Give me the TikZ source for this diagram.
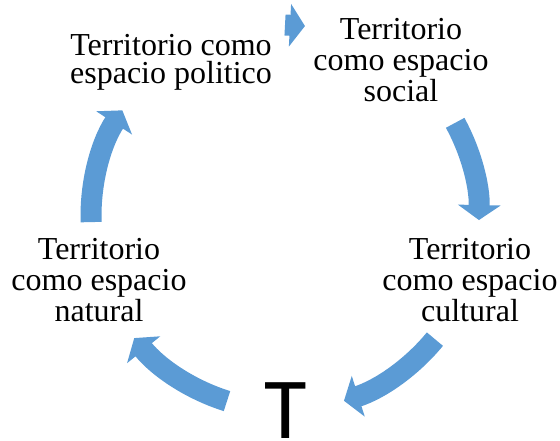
\documentclass[tikz,border=0pt]{standalone}
\usepackage{fontspec}
\setmainfont{Liberation Serif}
\newfontfamily\tfont{Carlito}
\usepackage{tikz}
\usetikzlibrary{arrows.meta, calc}
\definecolor{cycblue}{RGB}{91,155,213}

\begin{document}
\begin{tikzpicture}[
    x=1pt, y=1pt,
    txt/.style={align=center, inner sep=0pt, font=\fontsize{32}{31}\selectfont},
    cyc/.style={draw=cycblue, line width=21pt, -{Triangle[length=15pt, width=42pt]}},
]
\useasboundingbox (0,0) rectangle (560,440);

% Nodes
\node[txt, font=\fontsize{32}{28}\selectfont] (politico) at (171,378) {Territorio como\\espacio politico};
\node[txt] (social) at (401,380) {Territorio\\como espacio\\social};
\node[txt] (cultural) at (470,160) {Territorio\\como espacio\\cultural};
\node[txt] (natural) at (99,160) {Territorio\\como espacio\\natural};
\node[font=\tfont\fontsize{87}{87}\selectfont, inner sep=0pt, anchor=base] (t) at (286,2) {T};

% Cycle
\coordinate (c) at (285,224);
\coordinate (a1) at ($(c)+(90:191)$);
\coordinate (b1) at ($(c)+(84:191)$);
\coordinate (a2) at ($(c)+(28.7:194)$);
\coordinate (a3) at ($(c)+(-39.4:194)$);
\coordinate (a4) at ($(c)+(-107.4:194)$);
\coordinate (a5) at ($(c)+(181.8:194)$);

% Arrows
\draw[cyc] (a1) -- (b1);
\draw[cyc] (a2) arc[start angle=28.7, end angle=-1.2, radius=194];
\draw[cyc] (a3) arc[start angle=-39.4, end angle=-72.3, radius=194];
\draw[cyc] (a4) arc[start angle=-107.4, end angle=-141, radius=194];
\draw[cyc] (a5) arc[start angle=181.8, end angle=147, radius=194];

\end{tikzpicture}
\end{document}
